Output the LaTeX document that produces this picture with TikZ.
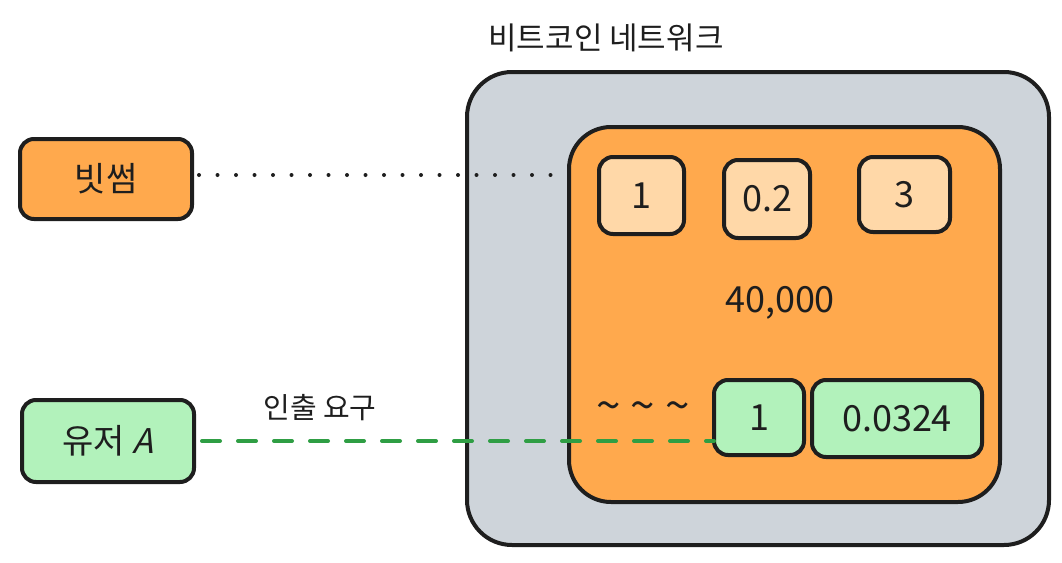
\documentclass[tikz,border=0pt]{standalone}
\usepackage{fontspec}
\setmainfont{Noto Sans CJK KR}
\newfontfamily\numfont{Noto Sans CJK KR}
\newfontfamily\slantfont[FakeSlant=0.25]{Noto Sans CJK KR}
\definecolor{ink}{HTML}{1E1E1E}
\definecolor{grayfill}{HTML}{CED4DA}
\definecolor{orangefill}{HTML}{FFA94D}
\definecolor{lightorange}{HTML}{FFD8A8}
\definecolor{lightgreen}{HTML}{B2F2BB}
\definecolor{darkgreen}{HTML}{2F9E44}
\begin{document}
\begin{tikzpicture}[x=1pt,y=-1pt,
  boxframe/.style={draw=ink,line width=4pt,rounded corners=14pt,inner sep=0pt,anchor=north west},
  numtext/.style={font=\numfont\fontsize{36}{42}\selectfont,text=ink},
  kotext/.style={font=\fontsize{34}{40}\selectfont,text=ink}]
\useasboundingbox (0,0) rectangle (1062,562);
% outer network box
\node[boxframe,fill=grayfill,rounded corners=45pt,minimum width=582pt,minimum height=473pt] (net) at (465,70) {};
\node[kotext,font=\fontsize{31}{36}\selectfont] (nettitle) at (606,38) {비트코인 네트워크};
% inner orange box
\node[boxframe,fill=orangefill,rounded corners=42pt,minimum width=431pt,minimum height=375pt] (chain) at (567,125) {};
% top boxes
\node[boxframe,fill=lightorange,minimum width=85pt,minimum height=77pt] (b1) at (597,155) {};
\node[numtext] at (b1.center) {1};
\node[boxframe,fill=lightorange,minimum width=86pt,minimum height=78pt] (b2) at (722,158) {};
\node[numtext] at (b2.center) {0.2};
\node[boxframe,fill=lightorange,minimum width=91pt,minimum height=75pt] (b3) at (857,155) {};
\node[numtext] at (b3.center) {3};
% total
\node[numtext] (total) at (780,303) {40,000};
% bottom boxes
\node[numtext,font=\numfont\fontsize{44}{48}\selectfont] (tilde) at (643,412) {\textasciitilde{} \textasciitilde{} \textasciitilde};
\node[boxframe,fill=lightgreen,minimum width=90pt,minimum height=75pt] (g1) at (712,378) {};
\node[numtext] at (g1.center) {1};
\node[boxframe,fill=lightgreen,minimum width=170pt,minimum height=77pt] (g2) at (810,378) {};
\node[numtext] at (g2.center) {0.0324};
% left nodes
\node[boxframe,fill=orangefill,minimum width=172pt,minimum height=80pt] (bithumb) at (18,137) {};
\node[kotext] at (bithumb.center) {빗썸};
\node[boxframe,fill=lightgreen,minimum width=172pt,minimum height=82pt] (user) at (20,398) {};
\node[kotext] at (user.center) {유저 {\slantfont A}};
% connectors
\coordinate (dotend) at (567,175);
\coordinate (dashend) at (714,441);
\draw[ink,line width=4pt,line cap=round,dash pattern=on 0pt off 18.5pt] (bithumb.east |- dotend) ++(5,0) -- (dotend);
\draw[darkgreen,line width=4pt,line cap=round,dash pattern=on 18pt off 18pt] (user.east |- dashend) ++(6,0) -- (dashend);
\node[kotext,font=\fontsize{29}{34}\selectfont] (label) at (320,408) {인출 요구};
\end{tikzpicture}
\end{document}
